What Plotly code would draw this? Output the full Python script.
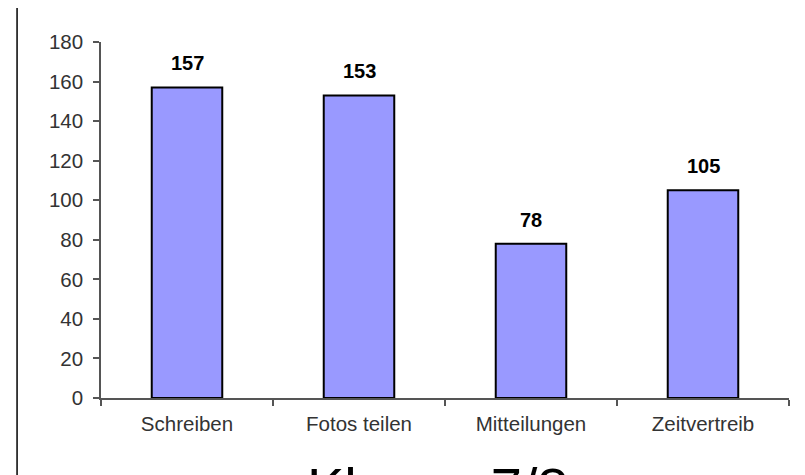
import plotly.graph_objects as go

categories = ["Schreiben", "Fotos teilen", "Mitteilungen", "Zeitvertreib"]
values = [157, 153, 78, 105]
y_ticks = [0, 20, 40, 60, 80, 100, 120, 140, 160, 180]
title_text = "Klasse 7/8"

FONT = "Liberation Sans, Arial, sans-serif"

fig = go.Figure()
fig.add_trace(go.Bar(
    x=categories, y=values,
    marker=dict(color="#9999FF", line=dict(color="#000000", width=2)),
    width=0.41,
    hoverinfo="skip",
))

for c, v in zip(categories, values):
    fig.add_annotation(x=c, y=v, text=f"<b>{v}</b>", showarrow=False,
                       yanchor="bottom", yshift=11,
                       font=dict(family=FONT, size=20, color="#000000"))

fig.add_annotation(xref="paper", yref="paper", x=0.49, y=-0.157, xanchor="center",
                   yanchor="top", text=title_text, showarrow=False,
                   font=dict(family=FONT, size=56, color="#000000"))

fig.add_shape(type="line", xref="paper", yref="paper",
              x0=-0.122, x1=-0.122, y0=1.0955, y1=-0.3,
              line=dict(color="#000000", width=1.5))

fig.update_layout(
    width=805, height=475,
    margin=dict(l=93, r=24, t=34, b=85),
    paper_bgcolor="white", plot_bgcolor="white",
    showlegend=False,
    font=dict(family=FONT, color="#333333"),
    bargap=0.59,
)
fig.update_xaxes(
    showline=True, linecolor="#555555", linewidth=1.5,
    ticks="outside", tickson="boundaries", ticklen=6, tickcolor="#555555", tickwidth=1.5,
    tickfont=dict(size=20.5, family=FONT, color="#333333"),
    ticklabelstandoff=7,
    showgrid=False, zeroline=False,
)
fig.update_yaxes(
    range=[0, 180], tickvals=y_ticks,
    showline=True, linecolor="#555555", linewidth=1.5,
    ticks="outside", ticklen=6, tickcolor="#555555", tickwidth=1.5,
    tickfont=dict(size=20.5, family=FONT, color="#333333"),
    ticklabelstandoff=6,
    showgrid=False, zeroline=False,
)

fig.write_html("out.html")
